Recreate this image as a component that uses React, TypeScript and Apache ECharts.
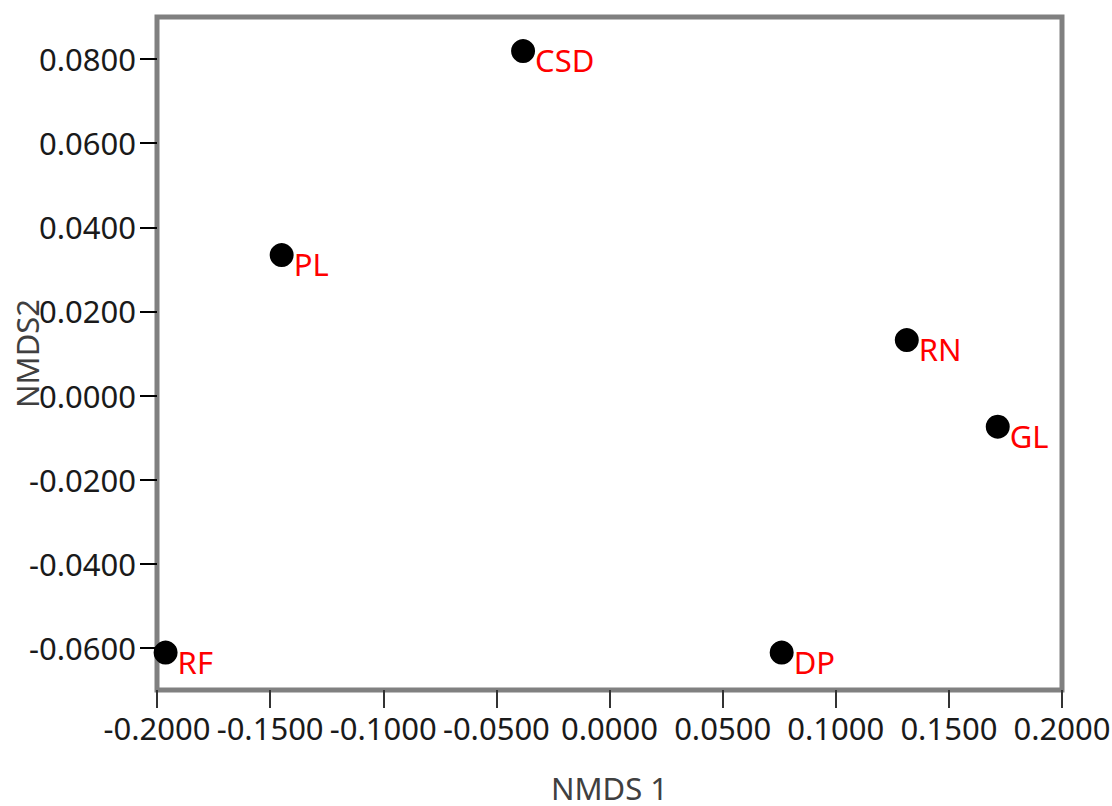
import React, { useEffect, useRef } from "react";
import * as echarts from "echarts";

const siteNames = ["CSD", "PL", "RN", "GL", "DP", "RF"];
const nmds1 = [-0.0382, -0.1449, 0.1314, 0.1716, 0.0761, -0.1962];
const nmds2 = [0.0819, 0.0334, 0.0132, -0.0074, -0.0611, -0.0611];
const yTicks = [-0.06, -0.04, -0.02, 0, 0.02, 0.04, 0.06, 0.08];

const FONT = "'Noto Sans', sans-serif";

export default function App() {
  const ref = useRef<HTMLDivElement>(null);
  useEffect(() => {
    if (!ref.current) return;
    const chart = echarts.init(ref.current, undefined, { renderer: "svg" });
    const data = siteNames.map((n, i) => ({ name: n, value: [nmds1[i], nmds2[i]] }));
    chart.setOption({
      animation: false,
      backgroundColor: "#ffffff",
      textStyle: { fontFamily: FONT },
      grid: {
        left: 157,
        right: 50,
        top: 17,
        bottom: 116,
        show: true,
        borderColor: "#808080",
        borderWidth: 5,
        backgroundColor: "transparent",
        outerBoundsMode: "none",
        containLabel: false,
      },
      xAxis: {
        type: "value",
        min: -0.2,
        max: 0.2,
        interval: 0.05,
        name: "NMDS 1",
        nameLocation: "middle",
        nameGap: 82,
        nameMoveOverlap: false,
        nameTextStyle: { fontFamily: FONT, fontSize: 31, color: "#404040" },
        axisLine: { show: false, onZero: false },
        splitLine: { show: false },
        axisTick: { show: true, inside: false, length: 18, lineStyle: { color: "#333333", width: 2 } },
        axisLabel: {
          fontFamily: FONT,
          fontSize: 31,
          color: "#1a1a1a",
          margin: 22,
          formatter: (v: number) => v.toFixed(4),
        },
      },
      yAxis: {
        type: "value",
        min: -0.07,
        max: 0.09,
        name: "NMDS2",
        nameLocation: "middle",
        nameRotate: 90,
        nameGap: 115,
        nameMoveOverlap: false,
        nameTextStyle: { fontFamily: FONT, fontSize: 31, color: "#404040" },
        axisLine: { show: false, onZero: false },
        splitLine: { show: false },
        axisTick: {
          show: true,
          inside: false,
          length: 17,
          customValues: yTicks,
          lineStyle: { color: "#000000", width: 2 },
        },
        axisLabel: {
          fontFamily: FONT,
          fontSize: 31,
          color: "#1a1a1a",
          margin: 21,
          customValues: yTicks,
          formatter: (v: number) => v.toFixed(4),
        },
      },
      series: [
        {
          type: "scatter",
          data,
          symbol: "circle",
          symbolSize: 24,
          itemStyle: { color: "#000000", opacity: 1 },
          label: {
            show: true,
            formatter: "{b}",
            position: [24, 21],
            align: "left",
            verticalAlign: "middle",
            color: "#ff0000",
            opacity: 1,
            fontFamily: FONT,
            fontSize: 31,
          },
        },
      ],
    });
    return () => chart.dispose();
  }, []);
  return (
    <div
      ref={ref}
      style={{ position: "fixed", left: 0, top: 0, width: 1112, height: 806, background: "#fff" }}
    />
  );
}
